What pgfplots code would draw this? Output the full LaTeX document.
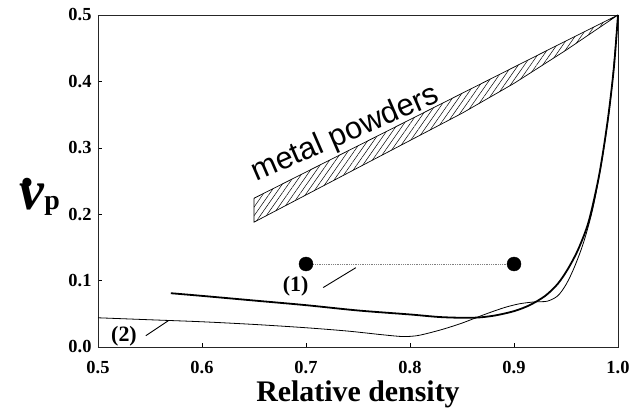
\documentclass[border=0pt]{standalone}
\usepackage{fontspec}
\setmainfont{Liberation Serif}
\newfontfamily\sansf{Liberation Sans}
\usepackage{pgfplots}
\pgfplotsset{compat=1.18}
\usetikzlibrary{patterns.meta,calc}

\pgfplotstableread{
x y
0.65 0.224
0.70 0.2635
0.75 0.303
0.80 0.3425
0.85 0.382
0.90 0.4215
0.95 0.461
1.00 0.500
0.95 0.447
0.90 0.397
0.85 0.352
0.80 0.311
0.75 0.270
0.70 0.229
0.65 0.188
0.65 0.224
}\bandtable

\pgfplotstableread{
x y
0.570 0.081
0.600 0.077
0.650 0.070
0.700 0.063
0.750 0.055
0.800 0.049
0.830 0.045
0.860 0.044
0.880 0.047
0.900 0.054
0.915 0.063
0.930 0.077
0.942 0.095
0.952 0.118
0.962 0.148
0.972 0.190
0.982 0.260
0.990 0.340
0.996 0.420
1.000 0.500
}\curveone

\pgfplotstableread{
x y
0.500 0.044
0.550 0.041
0.600 0.038
0.650 0.034
0.700 0.029
0.740 0.024
0.770 0.019
0.790 0.016
0.800 0.016
0.810 0.018
0.830 0.026
0.850 0.036
0.870 0.048
0.890 0.059
0.905 0.065
0.920 0.068
0.932 0.069
0.942 0.077
0.950 0.094
0.958 0.120
0.967 0.158
0.976 0.210
0.985 0.285
0.993 0.375
1.000 0.500
}\curvetwo

\begin{document}
\begin{tikzpicture}
\begin{axis}[
  scale only axis, width=520bp, height=332bp,
  xmin=0.5, xmax=1.0, ymin=0, ymax=0.5,
  xtick={0.5,0.6,0.7,0.8,0.9,1.0},
  xticklabels={0.5,0.6,0.7,0.8,0.9,1.0},
  ytick={0,0.1,0.2,0.3,0.4,0.5},
  yticklabels={0.0,0.1,0.2,0.3,0.4,0.5},
  xtick pos=bottom, ytick pos=left, tick align=inside,
  major tick length=4bp,
  axis line style={line width=0.6bp, black!85},
  tick style={line width=0.5bp, black},
  tick label style={font=\fontsize{18.5}{19}\selectfont\bfseries},
  xticklabel style={yshift=-11bp},
  yticklabel style={xshift=-3bp},
  xlabel={Relative density},
  xlabel style={font=\fontsize{30}{32}\selectfont\bfseries, at={(rel axis cs:0.5,-0.164)}, anchor=base},
  clip=false,
]
\coordinate (ll) at (rel axis cs:0,0);
\coordinate (ur) at (rel axis cs:1,1);

\addplot[draw=black, line width=0.7bp, pattern={Lines[angle=55,distance=5bp,line width=0.5bp]}] table {\bandtable};

\addplot[black, line width=1.8bp, smooth, tension=0.5] table {\curveone};
\addplot[black, line width=0.8bp, smooth, tension=0.5] table {\curvetwo};

\addplot[gray, line width=0.8bp, densely dotted] coordinates {(0.7,0.125) (0.9,0.125)};
\addplot[only marks, mark=*, mark size=7bp, black] coordinates {(0.7,0.125) (0.9,0.125)};

\addplot[black, line width=0.9bp] coordinates {(0.7165,0.0895) (0.748,0.1195)};
\addplot[black, line width=0.9bp] coordinates {(0.546,0.017) (0.568,0.040)};

\node[font=\fontsize{22}{22}\selectfont\bfseries] at (axis cs:0.690,0.091) {(1)};
\node[font=\fontsize{22}{22}\selectfont\bfseries] at (axis cs:0.525,0.0155) {(2)};

\node[font=\sansf\fontsize{31}{31}\selectfont, rotate=23.5] at (axis cs:0.738,0.320) {metal powders};

\node at (rel axis cs:-0.112,0.452) {{\fontsize{56}{56}\selectfont\bfseries\itshape\makebox[0pt][l]{\hspace{0.06em}\raisebox{0.40em}{.}}ν}{\fontsize{28}{28}\selectfont\bfseries p}};
\end{axis}
\pgfresetboundingbox
\path[use as bounding box] ($(ll)+(-98bp,-66bp)$) rectangle ($(ur)+(26bp,15bp)$);
\end{tikzpicture}
\end{document}
